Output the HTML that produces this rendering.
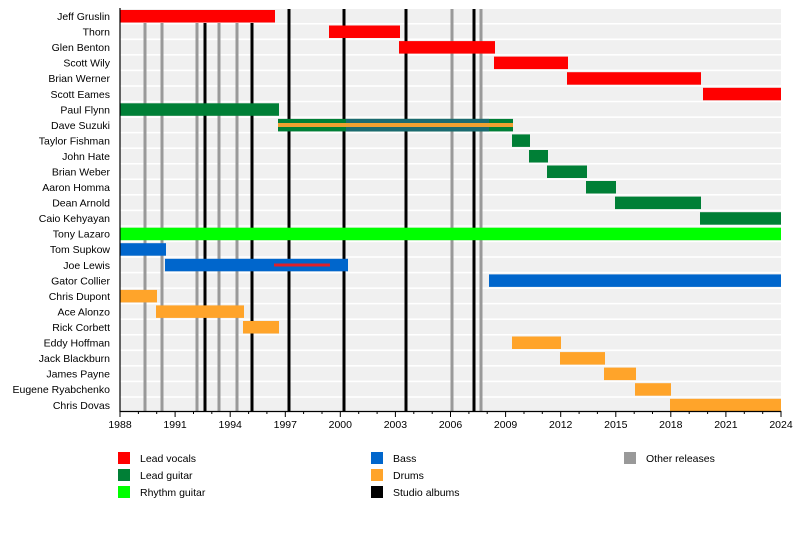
<!DOCTYPE html>
<html><head><meta charset="utf-8"><style>
html,body{margin:0;padding:0;background:#fff;}
svg{display:block;font-family:"Liberation Sans",Arial,sans-serif;}
</style></head><body>
<svg width="800" height="560" viewBox="0 0 800 560" xmlns="http://www.w3.org/2000/svg">
<g fill="#f0f0f0">
<rect x="120" y="9" width="661" height="14"/><rect x="120" y="24.5" width="661" height="14"/><rect x="120" y="40.1" width="661" height="14"/><rect x="120" y="55.6" width="661" height="14"/><rect x="120" y="71.2" width="661" height="14"/><rect x="120" y="86.8" width="661" height="14"/><rect x="120" y="102.3" width="661" height="14"/><rect x="120" y="117.9" width="661" height="14"/><rect x="120" y="133.4" width="661" height="14"/><rect x="120" y="149" width="661" height="14"/><rect x="120" y="164.5" width="661" height="14"/><rect x="120" y="180" width="661" height="14"/><rect x="120" y="195.6" width="661" height="14"/><rect x="120" y="211.2" width="661" height="14"/><rect x="120" y="226.7" width="661" height="14"/><rect x="120" y="242.2" width="661" height="14"/><rect x="120" y="257.8" width="661" height="14"/><rect x="120" y="273.4" width="661" height="14"/><rect x="120" y="288.9" width="661" height="14"/><rect x="120" y="304.4" width="661" height="14"/><rect x="120" y="320" width="661" height="14"/><rect x="120" y="335.5" width="661" height="14"/><rect x="120" y="351.1" width="661" height="14"/><rect x="120" y="366.6" width="661" height="14"/><rect x="120" y="382.2" width="661" height="14"/><rect x="120" y="397.8" width="661" height="14"/>
</g>
<g stroke="#999" stroke-width="3">
<line x1="145" y1="23" x2="145" y2="411"/><line x1="162" y1="23" x2="162" y2="411"/><line x1="197" y1="23" x2="197" y2="411"/><line x1="219" y1="23" x2="219" y2="411"/><line x1="237" y1="23" x2="237" y2="411"/><line x1="452" y1="9" x2="452" y2="411"/><line x1="481" y1="9" x2="481" y2="411"/>
</g>
<g stroke="#000" stroke-width="3">
<line x1="205" y1="23" x2="205" y2="411"/><line x1="252" y1="23" x2="252" y2="411"/><line x1="289" y1="9" x2="289" y2="411"/><line x1="344" y1="9" x2="344" y2="411"/><line x1="406" y1="9" x2="406" y2="411"/><line x1="474" y1="9" x2="474" y2="411"/>
</g>
<g fill="#ff0000">
<rect x="120" y="10" width="155" height="12.5"/><rect x="329" y="25.5" width="71" height="12.5"/><rect x="399" y="41.1" width="96" height="12.5"/><rect x="494" y="56.6" width="74" height="12.5"/><rect x="567" y="72.2" width="134" height="12.5"/><rect x="703" y="87.8" width="78" height="12.5"/>
</g>
<g fill="#007f36">
<rect x="120" y="103.3" width="159" height="12.5"/><rect x="278" y="118.9" width="235" height="12.5"/>
<rect x="512" y="134.4" width="18" height="12.5"/><rect x="529" y="150" width="19" height="12.5"/><rect x="547" y="165.5" width="40" height="12.5"/><rect x="586" y="181" width="30" height="12.5"/><rect x="615" y="196.6" width="86" height="12.5"/><rect x="700" y="212.2" width="81" height="12.5"/>
</g>
<rect x="346" y="118.9" width="143" height="12.5" fill="#1a6a70"/>
<rect x="278" y="123" width="235" height="4" fill="#f0a030"/>
<rect x="120" y="227.7" width="661" height="12.5" fill="#00ff00"/>
<g fill="#0066cc">
<rect x="120" y="243.2" width="46" height="12.5"/><rect x="165" y="258.8" width="183" height="12.5"/><rect x="489" y="274.4" width="292" height="12.5"/>
</g>
<rect x="274" y="263.5" width="56" height="3" fill="#e0202a"/>
<g fill="#ffa42a">
<rect x="120" y="289.9" width="37" height="12.5"/><rect x="156" y="305.4" width="88" height="12.5"/><rect x="243" y="321" width="36" height="12.5"/><rect x="512" y="336.5" width="49" height="12.5"/><rect x="560" y="352.1" width="45" height="12.5"/><rect x="604" y="367.6" width="32" height="12.5"/><rect x="635" y="383.2" width="36" height="12.5"/><rect x="670" y="398.8" width="111" height="12.5"/>
</g>
<g stroke="#000" stroke-width="1.2">
<line x1="120" y1="8" x2="120" y2="412"/><line x1="119.5" y1="411.5" x2="781.5" y2="411.5"/>
</g>
<g stroke="#000" stroke-width="1">
<path d="M120 411v6M175.1 411v6M230.2 411v6M285.3 411v6M340.3 411v6M395.4 411v6M450.5 411v6M505.6 411v6M560.7 411v6M615.8 411v6M670.8 411v6M725.9 411v6M781 411v6"/>
<path d="M138.4 411v3M156.7 411v3M193.5 411v3M211.8 411v3M248.6 411v3M266.9 411v3M303.6 411v3M322 411v3M358.7 411v3M377.1 411v3M413.8 411v3M432.2 411v3M468.9 411v3M487.2 411v3M524 411v3M542.3 411v3M579.1 411v3M597.4 411v3M634.2 411v3M652.5 411v3M689.2 411v3M707.6 411v3M744.3 411v3M762.7 411v3"/>
</g>
<g font-size="10.5" fill="#000" text-anchor="middle">
<text x="120" y="428">1988</text><text x="175.1" y="428">1991</text><text x="230.2" y="428">1994</text><text x="285.3" y="428">1997</text><text x="340.3" y="428">2000</text><text x="395.4" y="428">2003</text><text x="450.5" y="428">2006</text><text x="505.6" y="428">2009</text><text x="560.7" y="428">2012</text><text x="615.8" y="428">2015</text><text x="670.8" y="428">2018</text><text x="725.9" y="428">2021</text><text x="781" y="428">2024</text>
</g>
<g font-size="10.5" fill="#000" text-anchor="end">
<text x="110" y="20">Jeff Gruslin</text><text x="110" y="35.5">Thorn</text><text x="110" y="51.1">Glen Benton</text><text x="110" y="66.6">Scott Wily</text><text x="110" y="82.2">Brian Werner</text><text x="110" y="97.8">Scott Eames</text><text x="110" y="113.3">Paul Flynn</text><text x="110" y="128.9">Dave Suzuki</text><text x="110" y="144.4">Taylor Fishman</text><text x="110" y="160">John Hate</text><text x="110" y="175.5">Brian Weber</text><text x="110" y="191">Aaron Homma</text><text x="110" y="206.6">Dean Arnold</text><text x="110" y="222.2">Caio Kehyayan</text><text x="110" y="237.7">Tony Lazaro</text><text x="110" y="253.2">Tom Supkow</text><text x="110" y="268.8">Joe Lewis</text><text x="110" y="284.4">Gator Collier</text><text x="110" y="299.9">Chris Dupont</text><text x="110" y="315.4">Ace Alonzo</text><text x="110" y="331">Rick Corbett</text><text x="110" y="346.5">Eddy Hoffman</text><text x="110" y="362.1">Jack Blackburn</text><text x="110" y="377.6">James Payne</text><text x="110" y="393.2">Eugene Ryabchenko</text><text x="110" y="408.8">Chris Dovas</text>
</g>
<rect x="118" y="452" width="12" height="12" fill="#ff0000"/><rect x="118" y="469" width="12" height="12" fill="#007f36"/><rect x="118" y="486" width="12" height="12" fill="#00ff00"/>
<rect x="371" y="452" width="12" height="12" fill="#0066cc"/><rect x="371" y="469" width="12" height="12" fill="#ffa42a"/><rect x="371" y="486" width="12" height="12" fill="#000"/>
<rect x="624" y="452" width="12" height="12" fill="#999"/>
<g font-size="10.5" fill="#000">
<text x="140" y="462">Lead vocals</text><text x="140" y="479">Lead guitar</text><text x="140" y="496">Rhythm guitar</text>
<text x="393" y="462">Bass</text><text x="393" y="479">Drums</text><text x="393" y="496">Studio albums</text>
<text x="646" y="462">Other releases</text>
</g>
</svg>
</body></html>
